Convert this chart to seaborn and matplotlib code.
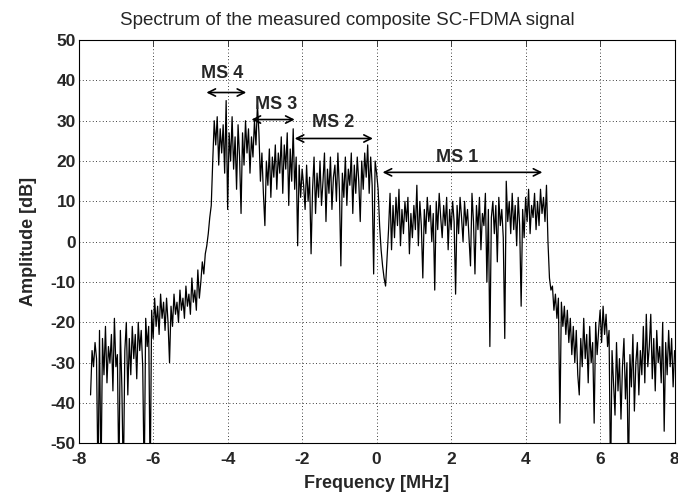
import numpy as np
import pandas as pd
import matplotlib
matplotlib.use("Agg")
import matplotlib.pyplot as plt
import seaborn as sns

# Frequency grid of the sampled spectrum (MHz)
freq_start = -7.68
freq_step = 0.04

# Amplitude readings (dB), segment by segment
floor_left = [-38, -27, -31, -25, -29, -60, -22, -60, -24, -33, -21, -35, -26, -30, -23, -37,
              -19, -31, -28, -60, -22, -36, -60, -27, -20, -38, -24, -33, -21, -29, -23, -34,
              -20, -27, -22, -31, -60, -19, -26, -21, -60, -17, -24]
skirt_left = [-14, -21, -16, -23, -13, -19, -15, -22, -14, -20, -30, -16, -21, -13, -18, -15,
              -20, -12, -17, -14, -19, -11, -16, -13, -18, -9, -15, -12, -17, -7, -14, -10,
              -5, -8, -3, -1, 2, 6, 9, 20]
ms4 = [30, 24, 31, 19, 28, 22, 29, 17, 35, 8, 27, 20, 31, 18, 26, 13, 29, 21, 7, 27, 19, 30,
       22, 28, 17, 26, 21, 30, 24, 34, 27]
ms3 = [15, 22, 12, 4, 20, 14, 23, 11, 21, 16, 24, 13, 22, 17, 26, 12, 24, 18, 27, 9, 23, 15,
       28, 13, 21, -1, 19, 11, 18]
ms2 = [14, 8, 19, 10, 16, -3, 13, 21, 7, 17, 11, 20, 9, 15, 22, 5, 18, 12, 21, 8, 16, 19, 10,
       22, 13, -6, 17, 11, 21, 9, 18, 14, 22, 7, 19, 12, 21, 15, 5, 20, 13, 22, 16, 24, 12, 21,
       14, -8, 20]
gap = [17, 13, 4, -2, -6, -9, -11, -4]
ms1 = [3, 12, -2, 9, 1, 11, 4, 13, -1, 8,
       2, 10, 5, 11, -3, 7, 1, 9, 3, 14,
       -1, 10, 4, -9, 8, 2, 11, 5, 9, 0,
       7, -12, 10, 3, 12, 6, 1, 9, 4, 11,
       -2, 8, 3, 10, 5, -13, 9, 2, 11, 6,
       0, 10, 4, 8, 1, -6, 12, 5, -8, 9,
       3, 11, -2, 7, 4, 12, -10, 8, -26, 6,
       10, 2, 9, -5, 11, 4, 8, 1, -24, 15,
       5, 10, 2, 12, 3, 9, -1, 11, 4, -16,
       8, 1, 11, 5, 13, 2, 9, 6, 12, 3,
       10, 4, 13, 7, 11, 5, 14]
skirt_right = [0, -9, -12, -11, -17, -13, -19, -14, -45, -15, -21, -16, -23, -17, -25, -19,
               -28, -21, -30, -22, -33, -38, -24, -31, -19, -29, -23, -35, -21, -30, -25, -45,
               -20, -28, -22, -17, -25, -16, -23, -18, -26, -22, -60]
floor_right = [-27, -35, -43, -25, -37, -29, -44, -31, -24, -39, -30, -60, -28, -36, -23, -42,
               -30, -25, -38, -27, -33, -21, -35, -18, -31, -26, -18, -34, -24, -37, -22, -30,
               -26, -35, -20, -47, -25, -33, -22, -31, -24, -36, -27]

amp = np.array(floor_left + skirt_left + ms4 + ms3 + ms2 + gap + ms1 + skirt_right + floor_right,
               dtype=float)
freq = freq_start + freq_step * np.arange(len(amp))
df = pd.DataFrame({"Frequency": freq, "Amplitude": amp})

# Annotations: label, arrow start, arrow end, arrow level, label position
ms_labels = ["MS 4", "MS 3", "MS 2", "MS 1"]
arrow_from = [-4.57, -3.36, -2.20, 0.16]
arrow_to = [-3.50, -2.20, -0.10, 4.45]
arrow_y = [37.0, 30.3, 25.6, 17.2]
label_x = [-4.15, -2.71, -1.18, 2.17]
label_y = [41.8, 34.1, 29.5, 20.8]

x_ticks = [-8, -6, -4, -2, 0, 2, 4, 6, 8]
y_ticks = [-50, -40, -30, -20, -10, 0, 10, 20, 30, 40, 50]

sns.set_style("white")
plt.rcParams["font.family"] = ["Liberation Sans", "DejaVu Sans"]

fig = plt.figure(figsize=(6.78, 4.95), dpi=100)
ax = fig.add_axes([0.116, 0.1044, 0.879, 0.8146])

sns.lineplot(data=df, x="Frequency", y="Amplitude", ax=ax, color="black",
             linewidth=0.9, sort=False, estimator=None)

ax.set_xlim(-8, 8)
ax.set_ylim(-50, 50)
ax.set_xticks(x_ticks)
ax.set_yticks(y_ticks)
ax.set_xticklabels([str(t) for t in x_ticks], fontsize=12.5, fontweight="bold")
ax.set_yticklabels([str(t) for t in y_ticks], fontsize=12.5, fontweight="bold")
ax.tick_params(direction="in", length=4, width=0.6, top=True, right=True)
ax.tick_params(axis="x", pad=6)
ax.tick_params(axis="y", pad=2)
ax.grid(True, color="black", linestyle=(0, (1, 3)), linewidth=0.6)
for s in ax.spines.values():
    s.set_color("black")
    s.set_linewidth(0.8)

ax.set_xlabel("Frequency [MHz]", fontsize=13, fontweight="bold", labelpad=6)
ax.set_ylabel("Amplitude [dB]", fontsize=13, fontweight="bold", labelpad=10)
ax.set_title("Spectrum of the measured composite SC-FDMA signal", fontsize=13.5, pad=11,
             x=0.451)

for lab, x0, x1, ya, lx, ly in zip(ms_labels, arrow_from, arrow_to, arrow_y, label_x, label_y):
    ax.annotate("", xy=(x0, ya), xytext=(x1, ya),
                arrowprops=dict(arrowstyle="<->", color="black", lw=1.2,
                                shrinkA=0, shrinkB=0, mutation_scale=13))
    ax.text(lx, ly, lab, ha="center", va="center", fontsize=13, fontweight="bold")

fig.savefig("out.png", dpi=100)
